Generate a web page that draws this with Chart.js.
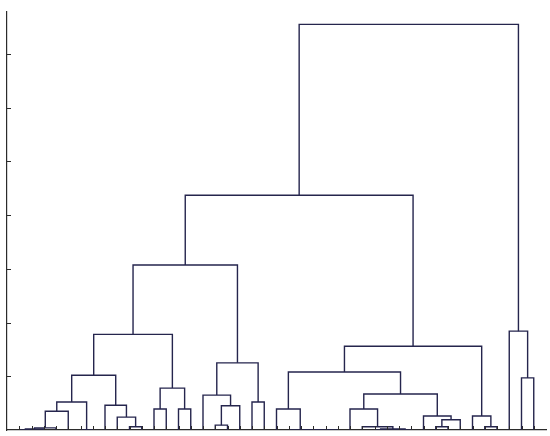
<!DOCTYPE html>
<html>
<head>
<meta charset="utf-8">
<script src="https://cdn.jsdelivr.net/npm/chart.js@4.4.1/dist/chart.umd.min.js"></script>
<style>
  html, body { margin: 0; padding: 0; background: #fff; }
  #wrap { width: 550px; height: 436px; }
</style>
</head>
<body>
<div id="wrap"><canvas id="tree"></canvas></div>
<script>
// leaves are numbered 1..43, merged clusters get ids 44, 45, ... in row order
const leafCount = 43;
const mergeLeft  = [1, 6, 30, 32, 26, 25, 24, 23, 44, 46, 29, 35, 39, 10, 52, 17, 55, 9, 34, 38, 58,
                    22, 28, 12, 14, 59, 8, 64, 20, 16, 66, 67, 71, 65, 42, 73, 77, 41, 76, 82, 83, 84];
const mergeRight = [2, 7, 31, 33, 27, 48, 49, 50, 3, 47, 53, 36, 40, 11, 4, 18, 37, 57, 60, 56, 5,
                    51, 54, 13, 15, 19, 61, 45, 21, 69, 62, 68, 70, 74, 43, 72, 63, 78, 75, 79, 80, 81];
const mergeHeight = [0, 0, 0, 0, 0, 0, 0, 0, 0.02, 0.02, 0.06, 0.06, 0.06, 0.06, 0.04, 0.09, 0.19, 0.24, 0.26, 0.26, 0.35,
                     0.39, 0.39, 0.39, 0.39, 0.45, 0.46, 0.52, 0.52, 0.65, 0.67, 0.78, 1.02, 1.08, 0.97, 1.25, 1.56, 1.84, 1.78, 3.07, 4.37, 7.55];
const yTicks = [1, 2, 3, 4, 5, 6, 7];

const lineColor = '#25254d';
const axisColor = '#2b2b2b';

// x position of a cluster = mean of its two children, height of a leaf = 0
const pos = {};
const hgt = {};
for (let k = 1; k <= leafCount; k++) { pos[k] = k; hgt[k] = 0; }

const datasets = [];
mergeLeft.forEach((l, i) => {
    const r = mergeRight[i];
    const id = leafCount + 1 + i;
    const h = mergeHeight[i];
    pos[id] = (pos[l] + pos[r]) / 2;
    hgt[id] = h;
    datasets.push({
        data: [
            { x: pos[l], y: hgt[l] },
            { x: pos[l], y: h },
            { x: pos[r], y: h },
            { x: pos[r], y: hgt[r] }
        ],
        showLine: true,
        borderColor: lineColor,
        borderWidth: 1.4,
        pointRadius: 0,
        fill: false
    });
});

// little inward tick marks like the original axes
const innerTicks = {
    id: 'innerTicks',
    afterDraw(chart) {
        const { ctx, chartArea, scales } = chart;
        ctx.save();
        ctx.strokeStyle = axisColor;
        ctx.lineWidth = 1;
        ctx.beginPath();
        yTicks.forEach(v => {
            const py = Math.round(scales.y.getPixelForValue(v)) + 0.5;
            ctx.moveTo(chartArea.left, py);
            ctx.lineTo(chartArea.left + 4, py);
        });
        for (let k = 1; k <= leafCount; k++) {
            const px = Math.round(scales.x.getPixelForValue(k)) + 0.5;
            ctx.moveTo(px, chartArea.bottom);
            ctx.lineTo(px, chartArea.bottom - 4);
        }
        ctx.stroke();
        ctx.restore();
    }
};

new Chart(document.getElementById('tree'), {
    type: 'scatter',
    data: { datasets: datasets },
    options: {
        responsive: true,
        maintainAspectRatio: false,
        animation: false,
        layout: { padding: { left: 7, right: 4, top: 12, bottom: 6 } },
        plugins: { legend: { display: false }, tooltip: { enabled: false } },
        scales: {
            x: {
                type: 'linear', min: 0, max: leafCount + 1,
                ticks: { display: false },
                grid: { display: false, drawTicks: false },
                border: { display: true, color: axisColor, width: 1.2 }
            },
            y: {
                min: 0, max: 7.78,
                ticks: { display: false },
                grid: { display: false, drawTicks: false },
                border: { display: true, color: axisColor, width: 1.2 }
            }
        }
    },
    plugins: [innerTicks]
});
</script>
</body>
</html>
